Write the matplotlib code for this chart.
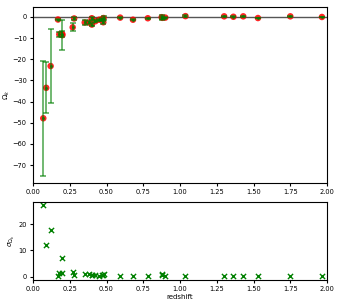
import matplotlib
matplotlib.use("Agg")
import matplotlib.pyplot as plt
import numpy as np

z = [0.07, 0.09, 0.12, 0.17, 0.179, 0.199, 0.2, 0.27, 0.28, 0.352, 0.3802, 0.4,
     0.4004, 0.4247, 0.4497, 0.47, 0.4783, 0.48, 0.593, 0.68, 0.781, 0.875, 0.88,
     0.9, 1.037, 1.3, 1.363, 1.43, 1.53, 1.75, 1.965]
omega_k = [-47.9, -33.5, -23.2, -1.2, -8.2, -8.0, -8.6, -4.9, -0.7, -2.6, -2.6, -0.6,
           -3.6, -2.0, -1.3, -1.0, -2.5, -0.5, -0.3, -1.3, -0.6, -0.1, -0.4,
           -0.3, 0.4, 0.3, 0.1, 0.3, -0.5, 0.3, 0.0]
sigma = [27.3, 12.0, 17.7, 0.4, 1.3, 1.4, 7.1, 1.9, 0.6, 1.0, 0.9, 0.7,
         0.6, 0.6, 0.4, 0.5, 0.7, 0.9, 0.2, 0.3, 0.2, 1.1, 0.5,
         0.4, 0.3, 0.2, 0.2, 0.2, 0.2, 0.2, 0.1]

plt.rcParams['font.size'] = 4.8
fig = plt.figure(figsize=(3.4, 3.06), dpi=100)
ax1 = fig.add_axes([0.097, 0.402, 0.865, 0.575])
ax2 = fig.add_axes([0.097, 0.085, 0.865, 0.255])

ax1.axhline(0, color='#555555', lw=1, zorder=1)
ax1.scatter(z, omega_k, s=22, color='red', alpha=0.85, zorder=2, edgecolors='none')
ax1.errorbar(z, omega_k, yerr=sigma, fmt='.', color='green', ms=2.5, capsize=2.5,
             elinewidth=1.2, capthick=1.2, alpha=0.65, zorder=3)
ax1.set_xlim(0, 2)
ax1.set_ylim(-78.5, 4.7)
ax1.set_ylabel(r'$\Omega_k$', fontsize=5, labelpad=0.5)
ax1.tick_params(labelsize=4.8, length=2.5, pad=2)

ax2.scatter(z, sigma, marker='x', color='green', s=14, lw=1)
ax2.set_xlim(0, 2)
ax2.set_ylim(-1.3, 28.5)
ax2.set_ylabel(r'$\sigma_{\Omega_k}$', fontsize=5, labelpad=1)
ax2.set_xlabel('redshift', fontsize=5, labelpad=1)
ax2.tick_params(labelsize=4.8, length=2.5, pad=2)

fig.savefig('out.png', dpi=100)
